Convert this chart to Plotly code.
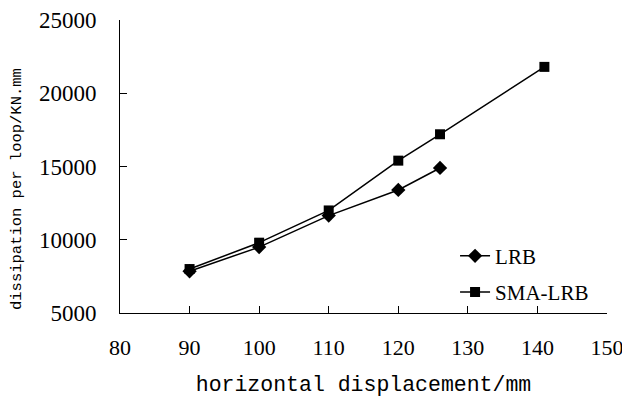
import plotly.graph_objects as go

lrb_x = [90, 100, 110, 120, 126]
lrb_y = [7850, 9500, 11650, 13400, 14900]
sma_x = [90, 100, 110, 120, 126, 141]
sma_y = [8000, 9800, 12000, 15400, 17200, 21800]

x_ticks = [80, 90, 100, 110, 120, 130, 140, 150]
y_ticks = [5000, 10000, 15000, 20000, 25000]
y_tick_labels = [str(v) for v in y_ticks]

fig = go.Figure()
fig.add_trace(go.Scatter(x=lrb_x, y=lrb_y, name="LRB", mode="lines+markers",
                         line=dict(color="black", width=1.5),
                         marker=dict(symbol="diamond", size=11, color="black"),
                         legendgroup="a"))
fig.add_trace(go.Scatter(x=sma_x, y=sma_y, name="SMA-LRB", mode="lines+markers",
                         line=dict(color="black", width=1.5),
                         marker=dict(symbol="square", size=10, color="black"),
                         legendgroup="b"))

# page body has an 8px margin; compensate so the plot area lands at 120..607 x 20..313
fig.update_layout(
    width=622, height=391,
    margin=dict(l=112, r=23, t=12, b=86),
    paper_bgcolor="white", plot_bgcolor="white",
    font=dict(family="Liberation Serif", color="black"),
    legend=dict(x=0.688, y=0.264, xanchor="left", yanchor="top",
                font=dict(family="Liberation Serif", size=21),
                bgcolor="rgba(0,0,0,0)", tracegroupgap=6),
    xaxis=dict(range=[80, 150], tickvals=x_ticks, ticks="inside", ticklen=7,
               tickcolor="black", showline=True, linecolor="black", linewidth=1,
               showgrid=False, zeroline=False, tickfont=dict(size=22),
               ticklabelstandoff=15, automargin=False,
               title=dict(text="horizontal displacement/mm",
                          font=dict(family="Liberation Mono", size=21.5), standoff=16)),
    yaxis=dict(range=[5000, 25000], tickvals=y_ticks, ticktext=y_tick_labels,
               ticks="inside", ticklen=7, automargin=False,
               tickcolor="black", showline=True, linecolor="black", linewidth=1,
               showgrid=False, zeroline=False, tickfont=dict(size=23),
               ticklabelstandoff=18),
    annotations=[dict(text="dissipation per loop/KN.mm", xref="paper", yref="paper",
                      x=(9 - 112) / 487, y=(313 - 189) / 293, textangle=-90, showarrow=False,
                      xanchor="center", yanchor="middle",
                      font=dict(family="Liberation Mono", size=15.5))],
)
fig.write_html("out.html")
